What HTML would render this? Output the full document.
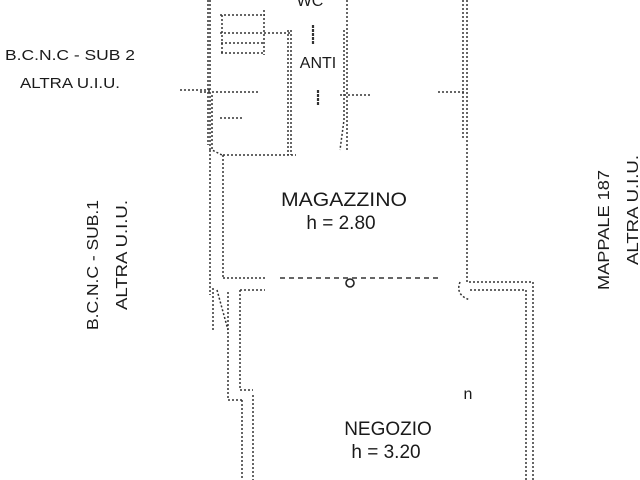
<!DOCTYPE html>
<html><head><meta charset="utf-8"><style>
html,body{margin:0;padding:0;background:#fff;}
svg{display:block;}
text{font-family:"Liberation Sans",sans-serif;fill:#1a1a1a;}
</style></head><body>
<svg width="640" height="480" viewBox="0 0 640 480" xmlns="http://www.w3.org/2000/svg">
<g fill="none" stroke="#333" stroke-width="1.5" stroke-dasharray="2 2">
 <path d="M210 0 V150"/>
 <path d="M208 0 V145"/>
 <path d="M212 95 V150 L222 155"/>
 <path d="M210 150 V295"/>
 <path d="M223 155 V278"/>
 <path d="M223 155 H296"/>
 <path d="M288 30 V155"/>
 <path d="M291 30 V155"/>
 <path d="M220 15 H265 M220 33 H267 M221 43 H265 M221 53 H265"/>
 <path d="M222 15 V53 M264 10 V55"/>
 <path d="M268 33 H290 M220 118 H243"/>
 <path d="M200 92 H260"/>
 <path d="M180 90 H210"/>
 <path d="M313 25 V45 M318 90 V105" stroke-dasharray="3 1" stroke-width="2.2"/>
 <path d="M347 0 V150"/>
 <path d="M344 30 V120 L340 150"/>
 <path d="M340 95 H370"/>
 <path d="M438 92 H466"/>
 <path d="M467 0 V282 H533 V480"/>
 <path d="M463 0 V140"/>
 <path d="M470 290 H526 V480"/>
 <path d="M460 282 Q455 295 470 300"/>
 <path d="M223 278 H265" />
 <path d="M280 278 H440" stroke-dasharray="5 4"/>
 <path d="M213 288 V330 M217 290 L228 330"/>
 <path d="M228 292 V400 H242"/>
 <path d="M240 290 H265 M240 290 V390 H253"/>
 <path d="M242 400 V480"/>
 <path d="M253 395 V480"/>
</g>
<circle cx="350" cy="283" r="4" fill="none" stroke="#222" stroke-width="1.6"/>
<text x="310" y="6" font-size="16" text-anchor="middle">WC</text>
<text x="318" y="68" font-size="16" text-anchor="middle">ANTI</text>
<text x="344" y="206" font-size="19" text-anchor="middle" textLength="126" lengthAdjust="spacingAndGlyphs">MAGAZZINO</text>
<text x="341" y="229" font-size="19" text-anchor="middle">h = 2.80</text>
<text x="388" y="435" font-size="19" text-anchor="middle">NEGOZIO</text>
<text x="386" y="458" font-size="19" text-anchor="middle">h = 3.20</text>
<text x="468" y="399" font-size="16" text-anchor="middle">n</text>
<text x="5" y="60" font-size="15" fill="#333" textLength="130" lengthAdjust="spacingAndGlyphs">B.C.N.C - SUB 2</text>
<text x="20" y="88" font-size="15" fill="#333" textLength="100" lengthAdjust="spacingAndGlyphs">ALTRA U.I.U.</text>
<text transform="translate(98,265) rotate(-90)" font-size="16" text-anchor="middle" fill="#333" textLength="130" lengthAdjust="spacingAndGlyphs">B.C.N.C - SUB.1</text>
<text transform="translate(127,255) rotate(-90)" font-size="16" text-anchor="middle" fill="#333" textLength="110" lengthAdjust="spacingAndGlyphs">ALTRA U.I.U.</text>
<text transform="translate(609,230) rotate(-90)" font-size="16" text-anchor="middle" fill="#333" textLength="120" lengthAdjust="spacingAndGlyphs">MAPPALE 187</text>
<text transform="translate(638,210) rotate(-90)" font-size="16" text-anchor="middle" fill="#333" textLength="110" lengthAdjust="spacingAndGlyphs">ALTRA U.I.U.</text>
</svg>
</body></html>
